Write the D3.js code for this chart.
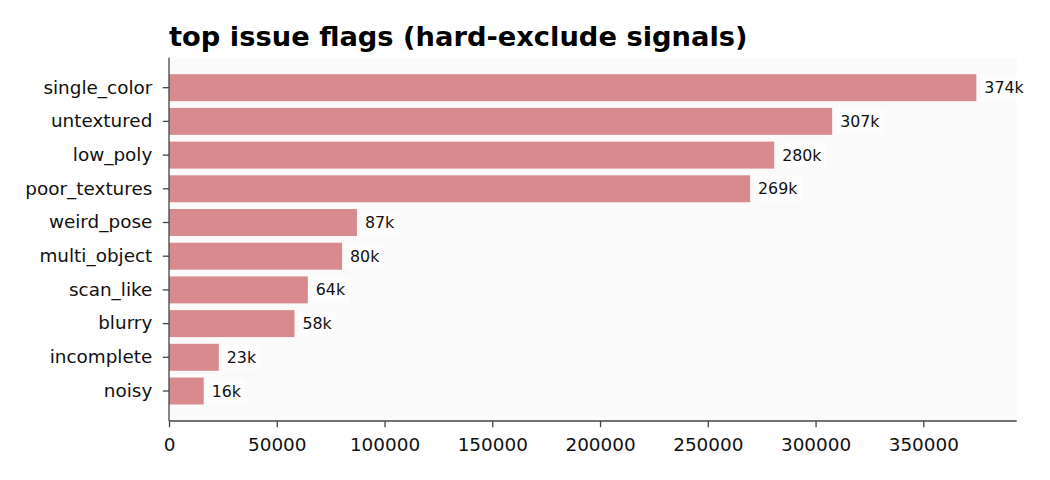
<!DOCTYPE html>
<html>
<head>
<meta charset="utf-8">
<script src="https://cdn.jsdelivr.net/npm/d3@7"></script>
<style>
  body { margin: 0; background: #fff; }
  svg { display: block; font-family: "DejaVu Sans", sans-serif; }
  .axis path, .axis line { stroke: #444; stroke-width: 1.3; }
  .axis text { fill: #111; font-size: 18.4px; font-family: "DejaVu Sans", sans-serif; }
</style>
</head>
<body>
<svg id="chart" width="1050" height="480"></svg>
<script>
// issue flags, top to bottom
var flags = ['single_color', 'untextured', 'low_poly', 'poor_textures', 'weird_pose',
             'multi_object', 'scan_like', 'blurry', 'incomplete', 'noisy'];
var counts = [374600, 307700, 280800, 269600, 87200, 80300, 64400, 58200, 23100, 16100];
var xTicks = [0, 50000, 100000, 150000, 200000, 250000, 300000, 350000];

var margin = {top: 57.7, right: 33.3, bottom: 59, left: 169};
var W = 1050, H = 480;
var w = W - margin.left - margin.right, h = H - margin.top - margin.bottom;

var svg = d3.select('#chart');

var x = d3.scaleLinear().domain([0, d3.max(counts) * 1.05]).range([0, w]);
var y = d3.scaleBand().domain(flags).range([0, h]).paddingInner(0.2).paddingOuter(0.49);

var g = svg.append('g').attr('transform', 'translate(' + margin.left + ',' + margin.top + ')');

g.append('rect')
  .attr('width', w).attr('height', h)
  .attr('fill', '#fafafa');

g.selectAll('rect.bar').data(flags).enter().append('rect')
  .attr('class', 'bar')
  .attr('x', 0)
  .attr('y', function(d) { return y(d); })
  .attr('width', function(d, i) { return x(counts[i]); })
  .attr('height', y.bandwidth())
  .attr('fill', '#d88a8e');

// value labels with faint white box
var lab = g.selectAll('g.lab').data(flags).enter().append('g').attr('class', 'lab');
lab.append('rect').attr('class', 'bg');
lab.append('text')
  .attr('x', function(d, i) { return x(counts[i]) + 8; })
  .attr('y', function(d) { return y(d) + y.bandwidth() / 2; })
  .attr('dy', '0.35em')
  .attr('font-size', '15.8px')
  .attr('fill', '#111')
  .text(function(d, i) { return Math.floor(counts[i] / 1000) + 'k'; });
lab.each(function() {
  var t = d3.select(this).select('text').node().getBBox();
  d3.select(this).select('rect.bg')
    .attr('x', t.x - 4).attr('y', t.y - 3)
    .attr('width', t.width + 8).attr('height', t.height + 6)
    .attr('fill', '#fff').attr('opacity', 0.55);
});

var yAxis = g.append('g').attr('class', 'axis')
  .call(d3.axisLeft(y).tickSize(6.2).tickPadding(10.5).tickSizeOuter(0));
yAxis.select('.domain').attr('d', 'M0,0V' + h);

var xAxis = g.append('g').attr('class', 'axis')
  .attr('transform', 'translate(0,' + h + ')')
  .call(d3.axisBottom(x).tickValues(xTicks).tickFormat(d3.format('d'))
        .tickSize(6.2).tickPadding(10.3).tickSizeOuter(0));
xAxis.select('.domain').attr('d', 'M0,0H' + w);

svg.append('text')
  .attr('x', margin.left)
  .attr('y', 45.5)
  .attr('font-size', '27.3px')
  .attr('font-weight', 'bold')
  .attr('fill', '#000')
  .text('top issue flags (hard-exclude signals)');
</script>
</body>
</html>
